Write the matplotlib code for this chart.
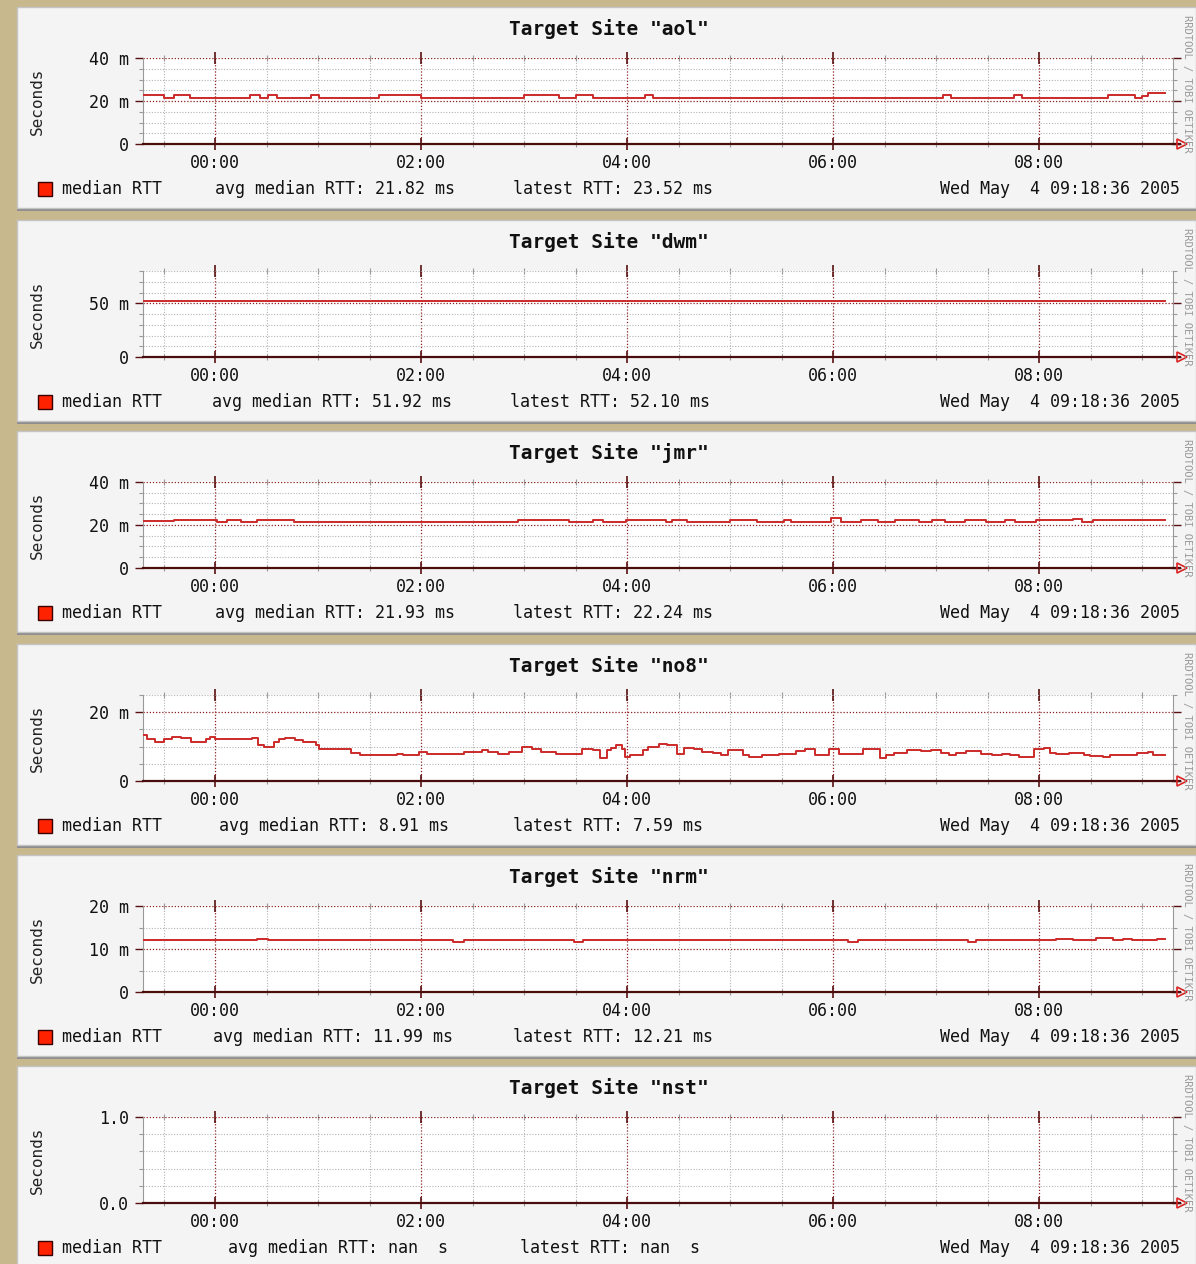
import matplotlib
matplotlib.use("Agg")
import matplotlib.pyplot as plt
from matplotlib.patches import Rectangle
from matplotlib.ticker import MultipleLocator, FixedLocator, FuncFormatter

W, H = 1196, 1264

# ---------------- data ----------------
sites = ["aol", "dwm", "jmr", "no8", "nrm", "nst"]

# step series: change times (hours relative to 00:00, May 4 2005) and RTT values (ms)
aol_t = [-0.70, -0.50, -0.40, -0.24, 0.34, 0.44, 0.51, 0.60, 0.93, 1.01, 1.59, 2.00,
         3.00, 3.34, 3.50, 3.67, 4.17, 4.25, 7.07, 7.14, 7.76, 7.83, 8.67, 8.93,
         9.00, 9.06, 9.22]
aol_v = [22.8, 21.5, 22.8, 21.5, 22.8, 21.5, 22.8, 21.5, 22.8, 21.5, 22.8, 21.5,
         22.8, 21.5, 22.8, 21.5, 22.8, 21.5, 22.8, 21.5, 22.8, 21.5, 22.8, 21.5,
         22.5, 23.5, 23.5]

dwm_t = [-0.70, -0.18, 0.25, 0.41, 0.74, 1.26, 1.49, 1.58, 1.75, 1.97, 2.33, 2.66,
         2.74, 2.89, 2.98, 3.16, 3.73, 3.81, 3.85, 3.93, 4.25, 4.38, 4.81, 4.91,
         5.07, 5.23, 5.56, 5.72, 6.24, 6.31, 6.96, 7.15, 7.80, 7.97, 8.03, 8.16,
         8.39, 8.55, 8.80, 9.22]
dwm_v = [52.3, 51.7, 52.3, 51.7, 52.3, 51.7, 52.3, 51.7, 52.3, 51.7, 52.3, 51.7,
         52.3, 51.7, 52.3, 51.7, 52.3, 51.7, 52.3, 51.7, 52.3, 51.7, 52.3, 51.7,
         52.3, 51.7, 52.3, 51.7, 52.3, 51.7, 52.3, 51.7, 52.3, 51.7, 52.3, 51.7,
         52.3, 51.7, 52.1, 52.1]

jmr_t = [-0.70, -0.40, 0.02, 0.12, 0.25, 0.41, 0.77, 2.94, 3.44, 3.67, 3.77, 3.99,
         4.38, 4.44, 4.58, 5.00, 5.26, 5.52, 5.59, 5.98, 6.08, 6.27, 6.44, 6.60,
         6.83, 6.96, 7.09, 7.28, 7.48, 7.67, 7.77, 7.97, 8.33, 8.42, 8.52, 9.22]
jmr_v = [21.8, 22.3, 21.6, 22.3, 21.6, 22.3, 21.6, 22.3, 21.6, 22.3, 21.6, 22.3,
         21.6, 22.3, 21.6, 22.3, 21.6, 22.3, 21.6, 23.2, 21.6, 22.3, 21.6, 22.3,
         21.6, 22.3, 21.6, 22.3, 21.6, 22.3, 21.6, 22.3, 22.7, 21.6, 22.24, 22.24]

no8_t = [-0.70, -0.66, -0.58, -0.50, -0.42, -0.33, -0.23, -0.09, -0.05, 0.00,
         0.36, 0.42, 0.47, 0.57, 0.62, 0.68, 0.78, 0.85, 0.98, 1.01, 1.32, 1.41,
         1.77, 1.82, 1.98, 2.06, 2.42, 2.59, 2.65, 2.75, 2.85, 2.98, 3.08, 3.16,
         3.31, 3.56, 3.67, 3.74, 3.80, 3.84, 3.89, 3.95, 3.98, 4.03, 4.15, 4.20,
         4.31, 4.39, 4.48, 4.55, 4.65, 4.73, 4.83, 4.91, 4.98, 5.13, 5.18, 5.31,
         5.47, 5.64, 5.73, 5.82, 5.96, 6.06, 6.16, 6.29, 6.46, 6.51, 6.59, 6.72,
         6.85, 6.95, 7.05, 7.13, 7.19, 7.29, 7.44, 7.54, 7.64, 7.72, 7.80, 7.95,
         8.05, 8.11, 8.16, 8.29, 8.44, 8.49, 8.62, 8.69, 8.95, 9.06, 9.11, 9.22]
no8_v = [13.3, 12.2, 11.4, 12.2, 12.9, 12.4, 11.4, 12.2, 12.9, 12.2,
         12.5, 10.4, 9.9, 11.4, 12.2, 12.5, 11.9, 11.4, 10.4, 9.2, 8.2, 7.5,
         7.8, 7.5, 8.4, 7.9, 8.4, 9.0, 8.4, 7.8, 8.4, 9.9, 9.2, 8.4,
         7.9, 9.4, 9.0, 6.8, 9.0, 9.6, 10.4, 9.2, 7.0, 7.5, 8.9, 9.9,
         10.7, 10.4, 7.9, 9.6, 9.2, 8.4, 8.2, 7.5, 9.0, 7.7, 7.0, 7.5,
         7.9, 8.6, 9.2, 7.5, 9.2, 7.8, 7.9, 9.4, 6.8, 7.7, 8.2, 8.9,
         8.6, 9.0, 8.2, 7.5, 8.2, 8.6, 7.9, 7.7, 7.9, 7.5, 7.0, 9.2,
         9.6, 8.2, 7.9, 8.2, 7.5, 7.2, 7.0, 7.5, 8.2, 8.4, 7.59, 7.59]

nrm_t = [-0.70, 0.41, 0.51, 2.31, 2.42, 3.48, 3.57, 6.14, 6.24, 7.31, 7.39, 8.16,
         8.33, 8.55, 8.72, 8.81, 8.90, 9.14, 9.22]
nrm_v = [12.0, 12.35, 12.0, 11.6, 12.0, 11.6, 12.0, 11.6, 12.0, 11.6, 12.0, 12.4,
         12.2, 12.45, 12.2, 12.4, 12.1, 12.21, 12.21]

nst_t = []
nst_v = []

series_t = [aol_t, dwm_t, jmr_t, no8_t, nrm_t, nst_t]
series_v = [aol_v, dwm_v, jmr_v, no8_v, nrm_v, nst_v]

# y axes
y_max = [40, 80, 40, 25, 20, 1.0]
y_major = [[0, 20, 40], [0, 50], [0, 20, 40], [0, 20], [0, 10, 20], [0, 1.0]]
y_major_labels = [["0", "20 m", "40 m"], ["0", "50 m"], ["0", "20 m", "40 m"],
                  ["0", "20 m"], ["0", "10 m", "20 m"], ["0.0", "1.0"]]
y_minor_step = [5, 10, 5, 5, 5, 0.2]

avg_text = ["21.82 ms", "51.92 ms", "21.93 ms", "8.91 ms", "11.99 ms", "nan  s"]
latest_text = ["23.52 ms", "52.10 ms", "22.24 ms", "7.59 ms", "12.21 ms", "nan  s"]
date_text = "Wed May  4 09:18:36 2005"
x_start, x_end = -0.70, 9.30

# ---------------- layout (pixels) ----------------
zero_y = [144, 357, 568, 781, 992, 1203]
avg_x = [215, 212, 215, 219, 213, 228]
latest_x = [513, 510, 513, 513, 513, 520]
plot_left, plot_right, plot_h = 143, 1173, 86

BG = "#c8b88e"
PANEL = "#f4f4f4"
LINE = "#cc2a2a"
MAJ = "#8b2020"
MIN = "#b4b4b4"
MONO = ["DejaVu Sans Mono"]


def fx(x):
    return x / W


def fy(y):
    return 1 - y / H


fig = plt.figure(figsize=(W / 100, H / 100), dpi=100, facecolor=BG)

for i, site in enumerate(sites):
    Z = zero_y[i]
    # panel background and shadow
    fig.patches.append(Rectangle((fx(17), fy(Z + 67)), (W - 17) / W, 3 / H,
                                 transform=fig.transFigure, facecolor="#8e8e8e",
                                 edgecolor="none", zorder=-3))
    fig.patches.append(Rectangle((fx(17), fy(Z + 64)), (W - 17) / W, 201 / H,
                                 transform=fig.transFigure, facecolor=PANEL,
                                 edgecolor="#c4c4c4", lw=1, zorder=-2))

    ax = fig.add_axes([fx(plot_left), fy(Z), (plot_right - plot_left) / W, plot_h / H])
    ax.set_zorder(1)
    ax.set_facecolor("white")
    if len(series_t[i]) > 0:
        ax.step(series_t[i], series_v[i], where="post", color=LINE, lw=1.4, zorder=3)
    ax.set_xlim(x_start, x_end)
    ax.set_ylim(0, y_max[i])

    ax.xaxis.set_major_locator(MultipleLocator(2))
    ax.xaxis.set_minor_locator(MultipleLocator(0.5))
    ax.xaxis.set_major_formatter(FuncFormatter(lambda h, p: f"{int(round(h)) % 24:02d}:00"))
    ax.yaxis.set_major_locator(FixedLocator(y_major[i]))
    ax.yaxis.set_minor_locator(MultipleLocator(y_minor_step[i]))
    ax.set_yticklabels(y_major_labels[i])

    ax.grid(which="minor", color=MIN, ls=(0, (1, 1.5)), lw=0.8, zorder=1)
    ax.grid(which="major", color=MAJ, ls=(0, (1, 1.5)), lw=0.9, zorder=2)

    ax.tick_params(axis="both", which="both", labelsize=12, labelcolor="#111111",
                   labelfontfamily="DejaVu Sans Mono")
    ax.tick_params(axis="x", which="major", direction="inout", length=9, width=1.2,
                   color="#5a1010", top=True, pad=3)
    ax.tick_params(axis="x", which="minor", direction="inout", length=5, width=0.8,
                   color="#999999", top=True)
    ax.tick_params(axis="y", which="major", direction="out", length=6, width=1.0,
                   color="#5a1010", right=True, pad=4)
    ax.tick_params(axis="y", which="minor", direction="out", length=3, width=0.8,
                   color="#999999", right=True)
    ax.tick_params(axis="y", which="major", right=True, labelright=False)

    ax.spines["top"].set_visible(False)
    ax.spines["left"].set_color("#999999")
    ax.spines["right"].set_color("#999999")
    ax.spines["bottom"].set_color("#4a0c0c")
    ax.spines["bottom"].set_linewidth(1.6)

    # zero line continuing to the arrow
    ax.plot([1.0, 1.007], [0, 0], transform=ax.transAxes, color="#4a0c0c", lw=1.6,
            clip_on=False, zorder=4)
    ax.plot([1.009], [0], transform=ax.transAxes, marker=">", ms=7, mfc="none",
            mec="#dd2222", mew=1.2, clip_on=False, zorder=5)

    # texts
    fig.text(fx(609), fy(Z - 115), f'Target Site "{site}"', ha="center", va="center",
             fontsize=14, fontweight="bold", family=MONO, color="#111111")
    fig.text(fx(37), fy(Z - 43), "Seconds", rotation=90, ha="center", va="center",
             fontsize=11.5, family=MONO, color="#222222")
    fig.text(fx(1187), fy(Z - 60), "RRDTOOL / TOBI OETIKER", rotation=270,
             ha="center", va="center", fontsize=7.5, family=MONO, color="#9a9a9a")

    ly = Z + 45
    fig.patches.append(Rectangle((fx(38), fy(ly + 7)), 14 / W, 14 / H,
                                 transform=fig.transFigure, facecolor="#ff2200",
                                 edgecolor="#3a0000", lw=1, zorder=3))
    fig.text(fx(62), fy(ly), "median RTT", ha="left", va="center", fontsize=12,
             family=MONO, color="#111111")
    fig.text(fx(avg_x[i]), fy(ly), f"avg median RTT: {avg_text[i]}", ha="left",
             va="center", fontsize=12, family=MONO, color="#111111")
    fig.text(fx(latest_x[i]), fy(ly), f"latest RTT: {latest_text[i]}", ha="left",
             va="center", fontsize=12, family=MONO, color="#111111")
    fig.text(fx(1180), fy(ly), date_text, ha="right", va="center", fontsize=12,
             family=MONO, color="#111111")

fig.savefig("out.png", dpi=100, facecolor=BG)
